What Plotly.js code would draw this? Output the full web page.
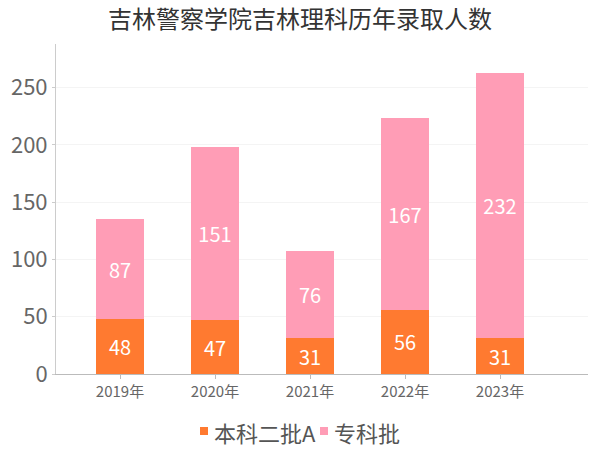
<!DOCTYPE html>
<html><head><meta charset="utf-8">
<script src="https://cdn.plot.ly/plotly-3.0.1.min.js"></script>
<style>html,body{margin:0;padding:0;background:#fff}</style>
</head><body><div id="chart" style="width:600px;height:450px"></div>
<script>
const categories = ["2019年","2020年","2021年","2022年","2023年"];
const seriesA = [48,47,31,56,31];
const seriesB = [87,151,76,167,232];
const nameA = "本科二批A";
const nameB = "专科批";
const colorA = '#ff7a30';
const colorB = '#ff9db6';
const font = '"Noto Sans CJK SC", "Noto Sans", sans-serif';
const data = [
  {type:'bar', name:nameA, x:categories, y:seriesA, marker:{color:colorA},
   text:seriesA.map(String), textposition:'inside', insidetextanchor:'middle', textangle:0,
   textfont:{color:'#fff', size:20, family:font}, width:0.5, hoverinfo:'none'},
  {type:'bar', name:nameB, x:categories, y:seriesB, marker:{color:colorB},
   text:seriesB.map(String), textposition:'inside', insidetextanchor:'middle', textangle:0,
   textfont:{color:'#fff', size:20, family:font}, width:0.5, hoverinfo:'none'}
];
const legendY0 = -0.1848, legendY1 = -0.1606, legendTextY = -0.1758;
const layout = {
  width:600, height:450, barmode:'stack',
  font:{family:font, color:'#666'},
  paper_bgcolor:'#fff', plot_bgcolor:'#fff',
  margin:{l:56, r:12, t:44, b:76},
  title:{text:'吉林警察学院吉林理科历年录取人数', font:{size:24, color:'#333', family:font},
         x:0.5, xanchor:'center', y:0.9556, yanchor:'middle'},
  xaxis:{range:[-0.674,4.926], showline:true, linecolor:'#bbb', linewidth:1, ticks:'outside', ticklen:4, tickcolor:'#bbb',
         tickfont:{size:15, color:'#666'}, showgrid:false, zeroline:false, fixedrange:true},
  yaxis:{range:[0,288], dtick:50, showline:true, linecolor:'#ccc', linewidth:1, ticks:'outside', ticklen:3, tickcolor:'#ccc',
         tickfont:{size:22, color:'#666'}, gridcolor:'#f4f4f4', zeroline:false, fixedrange:true},
  showlegend:false,
  shapes:[
    {type:'rect', xref:'paper', yref:'paper', x0:0.2707, x1:0.2857, y0:legendY0, y1:legendY1, fillcolor:colorA, line:{width:0}},
    {type:'rect', xref:'paper', yref:'paper', x0:0.4962, x1:0.5113, y0:legendY0, y1:legendY1, fillcolor:colorB, line:{width:0}}
  ],
  annotations:[
    {text:nameA, xref:'paper', yref:'paper', x:0.2932, y:legendTextY, xanchor:'left', yanchor:'middle', showarrow:false,
     font:{size:22, color:'#555', family:font}},
    {text:nameB, xref:'paper', yref:'paper', x:0.5188, y:legendTextY, xanchor:'left', yanchor:'middle', showarrow:false,
     font:{size:22, color:'#555', family:font}}
  ]
};
Plotly.newPlot('chart', data, layout, {displayModeBar:false, staticPlot:true});
</script></body></html>
